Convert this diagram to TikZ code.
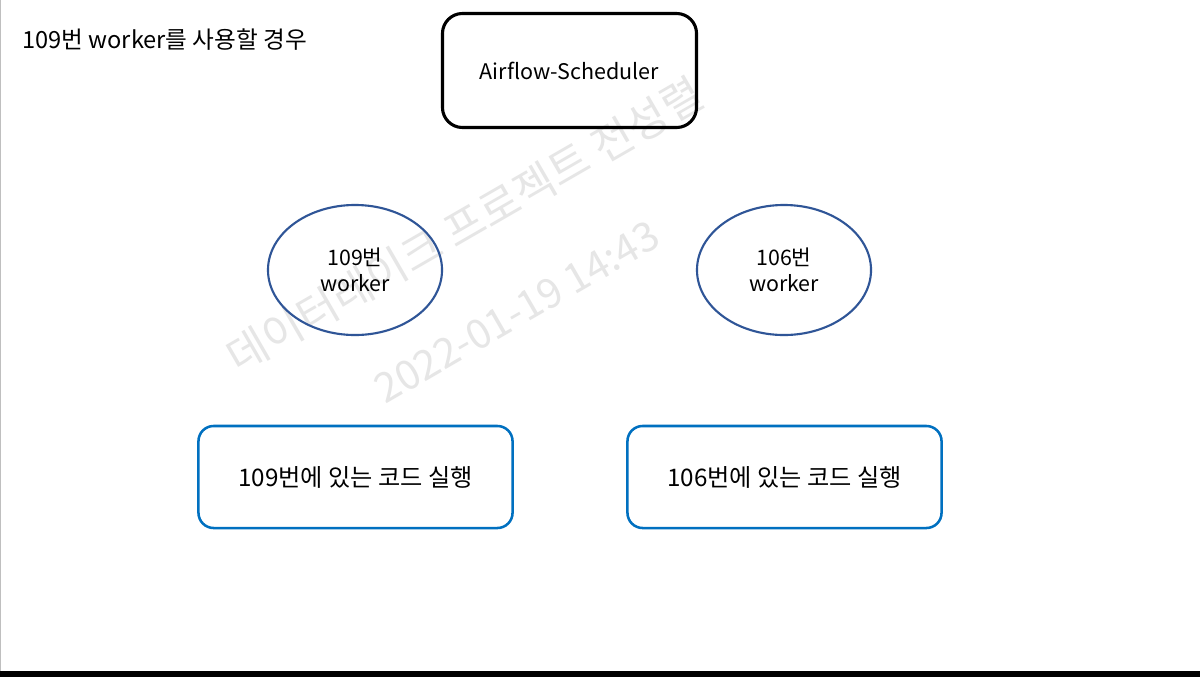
\documentclass[tikz,border=0pt]{standalone}
\usepackage{fontspec}
\setmainfont{Noto Sans CJK KR}
\usepackage{xcolor}
\usetikzlibrary{shapes.geometric}
\definecolor{ovalblue}{HTML}{2F5597}
\definecolor{boxblue}{HTML}{0070C0}
\definecolor{markgray}{HTML}{E6E6E6}

\begin{document}
\begin{tikzpicture}[x=0.025cm,y=-0.025cm,
  schedbox/.style={draw=black,line width=2.2pt,rounded corners=0.5cm,
    minimum width=6.35cm,minimum height=2.85cm,font=\fontsize{15.3}{18}\selectfont},
  workeroval/.style={draw=ovalblue,line width=1.5pt,ellipse,
    minimum width=4.35cm,minimum height=3.25cm,align=center,
    font=\fontsize{15.2}{18.5}\selectfont},
  runbox/.style={draw=boxblue,line width=1.8pt,rounded corners=0.38cm,
    minimum width=7.85cm,minimum height=2.55cm,font=\fontsize{17.2}{20}\selectfont},
  watermark/.style={text=markgray,rotate=30}]
% page frame
\useasboundingbox (0,0) rectangle (1200,677);
\fill[white] (0,0) rectangle (1200,677);
\fill[black] (0,671) rectangle (1200,677);
\draw[gray!50,line width=0.6pt] (0.5,0) -- (0.5,671);
% watermark
\node[watermark,font=\fontsize{31}{34}\selectfont] (mark1) at (465,225) {데이터레이크 프로젝트 전성렬};
\node[watermark,font=\fontsize{29}{32}\selectfont] (mark2) at (517,312) {2022-01-19 14:43};
% title
\node[anchor=west,inner sep=0pt,font=\fontsize{16.8}{20}\selectfont] (title) at (22,40) {109번 worker를 사용할 경우};
% scheduler
\node[schedbox] (sched) at (569.5,70.5) {Airflow-Scheduler};
% workers
\node[workeroval] (w109) at (355,270) {109번\\worker};
\node[workeroval] (w106) at (784,270) {106번\\worker};
% code runs
\node[runbox] (run109) at (355.5,477) {109번에 있는 코드 실행};
\node[runbox] (run106) at (784.5,477) {106번에 있는 코드 실행};
\end{tikzpicture}
\end{document}
